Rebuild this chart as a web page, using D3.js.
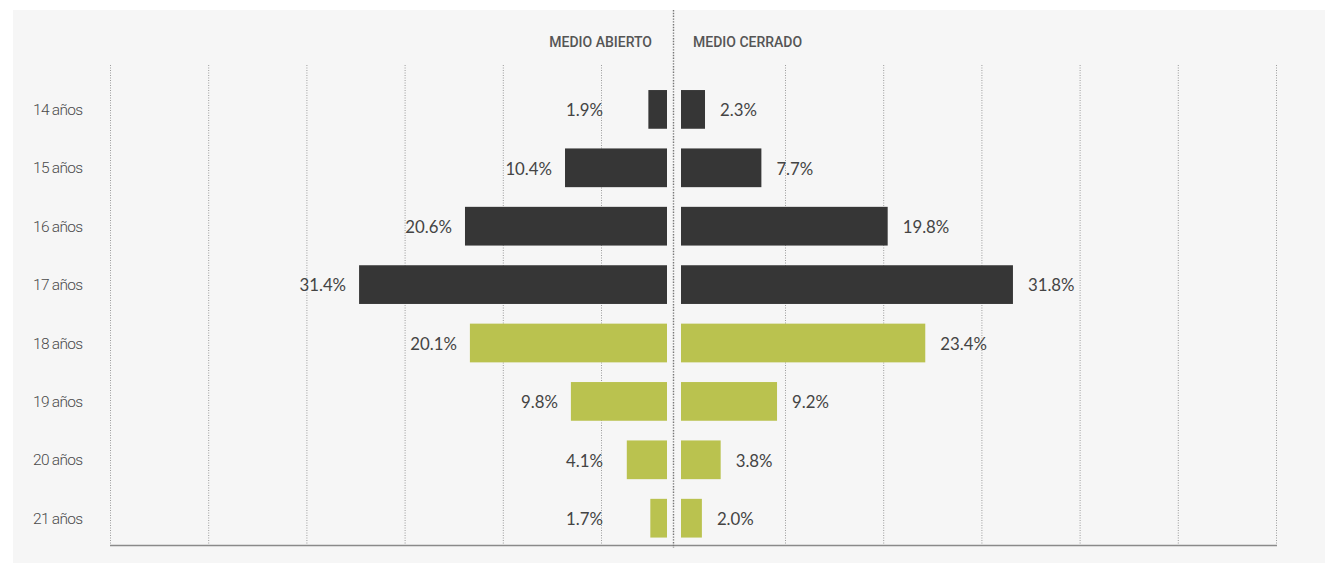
<!DOCTYPE html>
<html>
<head>
<meta charset="utf-8">
<script src="https://cdn.jsdelivr.net/npm/d3@7"></script>
<style>
  html, body { margin: 0; padding: 0; background: #ffffff; }
  svg { display: block; }
</style>
</head>
<body>
<svg id="chart" width="1325" height="563"></svg>
<script>
// Edades y porcentajes por tipo de medio
const edades = ["14 años", "15 años", "16 años", "17 años", "18 años", "19 años", "20 años", "21 años"];
const medioAbierto = [1.9, 10.4, 20.6, 31.4, 20.1, 9.8, 4.1, 1.7];
const medioCerrado = [2.3, 7.7, 19.8, 31.8, 23.4, 9.2, 3.8, 2.0];
const mayorDeEdad = [false, false, false, false, true, true, true, true];
const titulos = ["MEDIO ABIERTO", "MEDIO CERRADO"];

const colorMenor = "#363636";
const colorMayor = "#bac24f";
const fmt = v => v.toFixed(1) + "%";

const svg = d3.select("#chart");

// fondo
svg.append("rect")
  .attr("x", 13).attr("y", 10)
  .attr("width", 1312).attr("height", 553)
  .attr("fill", "#f6f6f6");

const y = d3.scaleBand()
  .domain(edades)
  .range([80.2, 547.4])
  .paddingInner(0.337)
  .paddingOuter(0.1685);

const xL = d3.scaleLinear().domain([0, 56.8]).range([667, 110]);
const xR = d3.scaleLinear().domain([0, 57]).range([681, 1276]);

// rejilla vertical
const gridL = d3.scaleLinear().domain([0, 5]).range([110, 601]);
const gridR = d3.scaleLinear().domain([0, 5]).range([785, 1276]);
const gridX = d3.range(6).map(gridL).concat(d3.range(6).map(gridR));

svg.append("g").selectAll("line")
  .data(gridX)
  .join("line")
  .attr("x1", d => d + 0.5).attr("x2", d => d + 0.5)
  .attr("y1", 65).attr("y2", 545)
  .attr("stroke", "#9c9c9c")
  .attr("stroke-width", 1)
  .attr("stroke-dasharray", "1,1.5");

// eje inferior
svg.append("line")
  .attr("x1", gridL(0)).attr("x2", gridR(5) + 1)
  .attr("y1", 545.5).attr("y2", 545.5)
  .attr("stroke", "#8a8a8a")
  .attr("stroke-width", 1.6);

// línea central
svg.append("line")
  .attr("x1", 673.5).attr("x2", 673.5)
  .attr("y1", 10).attr("y2", 548)
  .attr("stroke", "#777")
  .attr("stroke-width", 1.4)
  .attr("stroke-dasharray", "1.4,1.4");

const rows = edades.map((e, i) => ({ e, a: medioAbierto[i], c: medioCerrado[i], m: mayorDeEdad[i] }));

// barras
svg.append("g").selectAll("rect")
  .data(rows)
  .join("rect")
  .attr("x", d => xL(d.a))
  .attr("y", d => y(d.e))
  .attr("width", d => xL(0) - xL(d.a))
  .attr("height", y.bandwidth())
  .attr("fill", d => d.m ? colorMayor : colorMenor);

svg.append("g").selectAll("rect")
  .data(rows)
  .join("rect")
  .attr("x", xR(0))
  .attr("y", d => y(d.e))
  .attr("width", d => xR(d.c) - xR(0))
  .attr("height", y.bandwidth())
  .attr("fill", d => d.m ? colorMayor : colorMenor);

// etiquetas de valor
const valFont = "Lato, 'Open Sans', sans-serif";
svg.append("g").selectAll("text")
  .data(rows)
  .join("text")
  .attr("x", d => Math.min(xL(d.a) - 13, xL(0) - 64))
  .attr("y", d => y(d.e) + y.bandwidth() / 2)
  .attr("dy", "0.4em")
  .attr("text-anchor", "end")
  .attr("font-family", valFont)
  .attr("font-size", 16.8)
  .attr("fill", "#444")
  .text(d => fmt(d.a));

svg.append("g").selectAll("text")
  .data(rows)
  .join("text")
  .attr("x", d => xR(d.c) + 15)
  .attr("y", d => y(d.e) + y.bandwidth() / 2)
  .attr("dy", "0.4em")
  .attr("text-anchor", "start")
  .attr("font-family", valFont)
  .attr("font-size", 16.8)
  .attr("fill", "#444")
  .text(d => fmt(d.c));

// etiquetas de edad
svg.append("g").selectAll("text")
  .data(edades)
  .join("text")
  .attr("x", 33)
  .attr("y", d => y(d) + y.bandwidth() / 2)
  .attr("dy", "0.36em")
  .attr("font-family", "Roboto, sans-serif")
  .attr("font-weight", 300)
  .attr("font-size", 15.5)
  .attr("letter-spacing", -0.7)
  .attr("fill", "#4a4a4a")
  .text(d => d);

// títulos de columna
svg.append("text")
  .attr("x", 652).attr("y", 47)
  .attr("text-anchor", "end")
  .attr("font-family", "Roboto, sans-serif")
  .attr("font-weight", 500)
  .attr("font-size", 14)
  .attr("fill", "#555")
  .text(titulos[0]);

svg.append("text")
  .attr("x", 693).attr("y", 47)
  .attr("text-anchor", "start")
  .attr("font-family", "Roboto, sans-serif")
  .attr("font-weight", 500)
  .attr("font-size", 14)
  .attr("fill", "#555")
  .text(titulos[1]);
</script>
</body>
</html>
